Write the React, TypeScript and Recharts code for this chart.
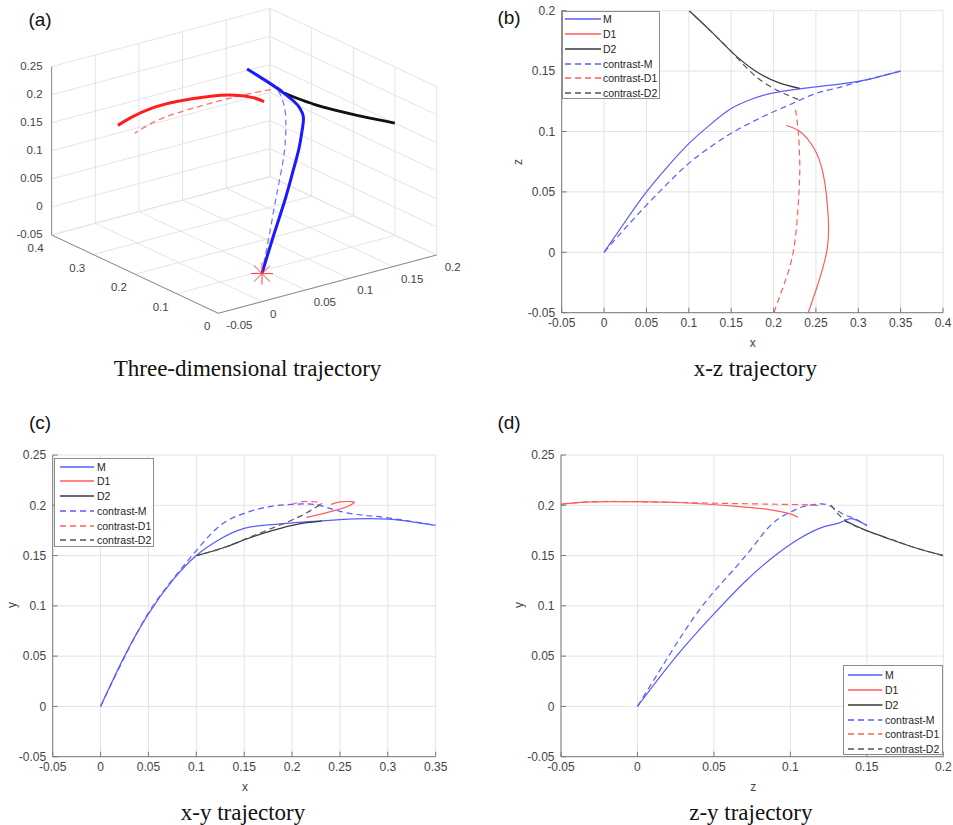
import React from 'react'
import {
  LineChart, ComposedChart, Line, Scatter, XAxis, YAxis,
  CartesianGrid, ReferenceLine,
} from 'recharts'

// every point is [x, y, z]
type P3 = [number, number, number]

const M: P3[] = [
  [0, 0, 0], [0.025, 0.05, 0.0255], [0.05, 0.092, 0.05], [0.075, 0.125, 0.071],
  [0.1, 0.15, 0.09], [0.125, 0.1665, 0.1055], [0.15, 0.177, 0.119], [0.175, 0.1805, 0.127],
  [0.2, 0.1825, 0.132], [0.25, 0.1858, 0.137], [0.3, 0.1862, 0.1415], [0.35, 0.18, 0.15],
]
const D1: P3[] = [
  [0.215, 0.188, 0.105], [0.231, 0.1915, 0.1], [0.247, 0.1955, 0.087], [0.2586, 0.199, 0.065],
  [0.2645, 0.2025, 0.03], [0.2626, 0.2036, 0], [0.2507, 0.2034, -0.03], [0.2409, 0.2009, -0.05],
]
const D2: P3[] = [
  [0.231, 0.1843, 0.1357], [0.2075, 0.1815, 0.14], [0.18, 0.175, 0.1495],
  [0.1524, 0.1665, 0.1647], [0.129, 0.158, 0.181], [0.1005, 0.15, 0.2],
]
const contrastM: P3[] = [
  [0, 0, 0], [0.025, 0.049, 0.02], [0.05, 0.093, 0.039], [0.075, 0.126, 0.057],
  [0.1, 0.155, 0.0736], [0.125, 0.18, 0.087], [0.15, 0.192, 0.0985], [0.175, 0.1985, 0.108],
  [0.2, 0.2009, 0.1164], [0.225, 0.2005, 0.124], [0.25, 0.194, 0.1315], [0.275, 0.19, 0.136],
  [0.3, 0.1875, 0.141], [0.35, 0.18, 0.15],
]
const contrastD1: P3[] = [
  [0.226, 0.2, 0.118], [0.229, 0.2008, 0.101], [0.231, 0.2015, 0.071], [0.229, 0.2025, 0.038],
  [0.2232, 0.2035, 0], [0.2114, 0.2036, -0.0285], [0.2004, 0.2012, -0.05],
]
const contrastD2: P3[] = [
  [0.229, 0.2003, 0.1266], [0.2075, 0.1887, 0.133], [0.18, 0.1775, 0.145],
  [0.1524, 0.167, 0.1645], [0.129, 0.158, 0.181], [0.1005, 0.15, 0.2],
]

const xTicksB = [-0.05, 0, 0.05, 0.1, 0.15, 0.2, 0.25, 0.3, 0.35, 0.4]
const zTicksB = [-0.05, 0, 0.05, 0.1, 0.15, 0.2]
const xTicksC = [-0.05, 0, 0.05, 0.1, 0.15, 0.2, 0.25, 0.3, 0.35]
const yTicks = [-0.05, 0, 0.05, 0.1, 0.15, 0.2, 0.25]
const zTicksD = [-0.05, 0, 0.05, 0.1, 0.15, 0.2]

// 3d box ticks
const xTicks3 = [0, 0.1, 0.2, 0.3, 0.4]
const zTicks3 = [-0.05, 0, 0.05, 0.1, 0.15, 0.2]
const yTicks3 = [-0.05, 0, 0.05, 0.1, 0.15, 0.2, 0.25]

const SANS = '"Liberation Sans", Arial, Helvetica, sans-serif'
const SERIF = '"Liberation Serif", "Times New Roman", serif'
const AXIS = '#7a7a7a'
const TICK = '#444'
const GRID = '#e4e4e4'

const BLUE = '#5b5bff'
const RED = '#ff5c5c'
const DARK = '#3a3a3a'

const lines2d = [
  { name: 'M', pts: M, color: BLUE, dash: undefined },
  { name: 'D1', pts: D1, color: RED, dash: undefined },
  { name: 'D2', pts: D2, color: DARK, dash: undefined },
  { name: 'contrast-M', pts: contrastM, color: BLUE, dash: '6 4' },
  { name: 'contrast-D1', pts: contrastD1, color: RED, dash: '6 4' },
  { name: 'contrast-D2', pts: contrastD2, color: '#555', dash: '6 4' },
]

// view of the 3d box: where one unit of x, z, y goes on the page
const ORIGIN = { u: 218.3, v: 313.3 }
const EX = { u: -416.7, v: -195.8 }
const EZ = { u: 873.3, v: -233.3 }
const EY = { u: 0, v: -561 }

function proj(x: number, y: number, z: number) {
  const dx = x - 0, dz = z + 0.05, dy = y + 0.05
  return {
    u: ORIGIN.u + EX.u * dx + EZ.u * dz + EY.u * dy,
    v: ORIGIN.v + EX.v * dx + EZ.v * dz + EY.v * dy,
  }
}

function boxSegments() {
  const segs: [P3, P3][] = []
  xTicks3.forEach(t => segs.push([[t, -0.05, -0.05], [t, -0.05, 0.2]]))
  zTicks3.forEach(t => segs.push([[0, -0.05, t], [0.4, -0.05, t]]))
  zTicks3.forEach(t => segs.push([[0.4, -0.05, t], [0.4, 0.25, t]]))
  yTicks3.forEach(t => segs.push([[0.4, t, -0.05], [0.4, t, 0.2]]))
  xTicks3.forEach(t => segs.push([[t, -0.05, 0.2], [t, 0.25, 0.2]]))
  yTicks3.forEach(t => segs.push([[0, t, 0.2], [0.4, t, 0.2]]))
  return segs
}

const axisSegs: [P3, P3][] = [
  [[0.4, -0.05, -0.05], [0.4, 0.25, -0.05]],
  [[0, -0.05, -0.05], [0.4, -0.05, -0.05]],
  [[0, -0.05, -0.05], [0, -0.05, 0.2]],
]

function Label({ x, y, children, size = 12, font = SANS, rotate = false, color = TICK }: any) {
  return (
    <div style={{
      position: 'absolute', left: x, top: y, transform: `translate(-50%, -50%)${rotate ? ' rotate(-90deg)' : ''}`,
      fontFamily: font, fontSize: size, color, whiteSpace: 'nowrap', lineHeight: 1,
    }}>{children}</div>
  )
}

function LegendBox({ left, top, width, height, first, lineOff, lineW, textOff }: any) {
  return (
    <div style={{
      position: 'absolute', left, top, width, height, boxSizing: 'border-box',
      border: '1px solid #8c8c8c', background: '#fff', fontFamily: SANS, fontSize: 10.5, color: '#262626',
    }}>
      {lines2d.map((s, i) => (
        <div key={s.name} style={{ position: 'absolute', left: 0, top: first + i * 14.75 - 7, height: 14, width: '100%' }}>
          <svg width={lineW} height={14} style={{ position: 'absolute', left: lineOff, top: 0 }}>
            <line x1={0} y1={7} x2={lineW} y2={7} stroke={s.color} strokeWidth={1.3} strokeDasharray={s.dash} />
          </svg>
          <span style={{ position: 'absolute', left: textOff, top: 1, lineHeight: '12px' }}>{s.name}</span>
        </div>
      ))}
    </div>
  )
}

function Panel2D({ left, top, width, height, margin, yw, hIdx, vIdx, hTicks, vTicks }: any) {
  const hDom = [hTicks[0], hTicks[hTicks.length - 1]]
  const vDom = [vTicks[0], vTicks[vTicks.length - 1]]
  const tickStyle = { fill: TICK, fontSize: 12, fontFamily: SANS }
  return (
    <div style={{ position: 'absolute', left, top }}>
      <LineChart width={width} height={height} margin={margin}>
        <CartesianGrid stroke={GRID} />
        <XAxis type="number" dataKey="h" domain={hDom} ticks={hTicks} allowDataOverflow interval={0}
          height={30} tickSize={-5} tickMargin={11} stroke={AXIS} tick={tickStyle} />
        <YAxis type="number" domain={vDom} ticks={vTicks} allowDataOverflow interval={0}
          width={yw} tickSize={-5} tickMargin={11.5} stroke={AXIS} tick={tickStyle} />
        <XAxis xAxisId="top" orientation="top" type="number" domain={hDom} ticks={hTicks} allowDataOverflow
          height={0} tick={false} tickSize={-5} stroke={AXIS} />
        <YAxis yAxisId="right" orientation="right" type="number" domain={vDom} ticks={vTicks} allowDataOverflow
          width={0} tick={false} tickSize={-5} stroke={AXIS} />
        {lines2d.map(s => (
          <Line key={s.name} data={s.pts.map(p => ({ h: p[hIdx], v: p[vIdx] }))} dataKey="v"
            type="natural" stroke={s.color} strokeWidth={1.2} strokeDasharray={s.dash}
            dot={false} activeDot={false} isAnimationActive={false} />
        ))}
      </LineChart>
    </div>
  )
}

const lines3d = [
  { name: 'contrast-D2', pts: contrastD2, color: '#666', w: 1.2, dash: '6 4' },
  { name: 'contrast-D1', pts: contrastD1, color: '#ff7070', w: 1.3, dash: '6 4' },
  { name: 'contrast-M', pts: contrastM, color: '#7a7aff', w: 1.3, dash: '6 4' },
  { name: 'D1', pts: D1, color: '#ff1e1e', w: 3, dash: undefined },
  { name: 'D2', pts: D2, color: '#111', w: 2.8, dash: undefined },
  { name: 'M', pts: M, color: '#1a1aff', w: 3, dash: undefined },
]

function Panel3D() {
  const txt = (dx: number, dy: number, anchor: string) => (p: any) => (
    <text x={p.cx + dx} y={p.cy + dy} textAnchor={anchor} dominantBaseline="central"
      fill={TICK} fontSize={11.5} fontFamily={SANS}>{p.payload.label}</text>
  )
  const vLabels = yTicks3.map(t => ({ ...proj(0.4, t, -0.05), label: String(t) }))
  const xLabels = xTicks3.map(t => ({ ...proj(t, -0.05, -0.05), label: String(t) }))
  const zLabels = zTicks3.map(t => ({ ...proj(0, -0.05, t), label: String(t) }))
  const start = [proj(0, 0, 0)]
  const star = (p: any) => {
    const r = 11
    return (
      <g stroke="#ff4040" strokeWidth={1}>
        <line x1={p.cx - r} y1={p.cy} x2={p.cx + r} y2={p.cy} />
        <line x1={p.cx} y1={p.cy - r} x2={p.cx} y2={p.cy + r} />
        <line x1={p.cx - r * 0.72} y1={p.cy - r * 0.72} x2={p.cx + r * 0.72} y2={p.cy + r * 0.72} />
        <line x1={p.cx - r * 0.72} y1={p.cy + r * 0.72} x2={p.cx + r * 0.72} y2={p.cy - r * 0.72} />
      </g>
    )
  }
  const seg = (s: [P3, P3], i: number, color: string, w: number) => {
    const a = proj(s[0][0], s[0][1], s[0][2])
    const b = proj(s[1][0], s[1][1], s[1][2])
    return <ReferenceLine key={color + i} segment={[{ x: a.u, y: a.v }, { x: b.u, y: b.v }]}
      stroke={color} strokeWidth={w} ifOverflow="visible" />
  }
  return (
    <div style={{ position: 'absolute', left: 0, top: 0 }}>
      <ComposedChart width={470} height={345} margin={{ top: 0, right: 0, bottom: 0, left: 0 }}>
        <XAxis hide type="number" dataKey="u" domain={[0, 470]} allowDataOverflow />
        <YAxis hide type="number" dataKey="v" domain={[0, 345]} reversed allowDataOverflow />
        {boxSegments().map((s, i) => seg(s, i, GRID, 1))}
        {axisSegs.map((s, i) => seg(s, i, '#8a8a8a', 1))}
        {lines3d.map(s => (
          <Line key={s.name} data={s.pts.map(p => proj(p[0], p[1], p[2]))} dataKey="v"
            type="natural" stroke={s.color} strokeWidth={s.w} strokeDasharray={s.dash}
            dot={false} activeDot={false} isAnimationActive={false} />
        ))}
        <Scatter data={start} shape={star} isAnimationActive={false} />
        <Scatter data={vLabels} shape={txt(-9, -1, 'end')} isAnimationActive={false} />
        <Scatter data={xLabels} shape={txt(-8, 13, 'end')} isAnimationActive={false} />
        <Scatter data={zLabels} shape={txt(8, 12, 'start')} isAnimationActive={false} />
      </ComposedChart>
    </div>
  )
}

export default function App() {
  return (
    <div style={{ position: 'absolute', left: 0, top: 0, width: 953, height: 825, background: '#fff', overflow: 'hidden' }}>
      <Panel3D />
      <Panel2D left={480} top={0} width={473} height={380}
        margin={{ top: 10.7, right: 10, bottom: 37.3, left: 21.7 }} yw={60}
        hIdx={0} vIdx={2} hTicks={xTicksB} vTicks={zTicksB} />
      <Panel2D left={0} top={410} width={470} height={380}
        margin={{ top: 45, right: 34.3, bottom: 3.3, left: 12.7 }} yw={40}
        hIdx={0} vIdx={1} hTicks={xTicksC} vTicks={yTicks} />
      <Panel2D left={480} top={410} width={473} height={380}
        margin={{ top: 45, right: 9.7, bottom: 3.3, left: 21 }} yw={60}
        hIdx={2} vIdx={1} hTicks={zTicksD} vTicks={yTicks} />

      <LegendBox left={561.7} top={10.7} width={98.3} height={88.6} first={7.6} lineOff={2.3} lineW={36} textOff={40.3} />
      <LegendBox left={54.3} top={457.7} width={100} height={89} first={8} lineOff={4.4} lineW={34.6} textOff={41.7} />
      <LegendBox left={843.3} top={665} width={100} height={90} first={9.3} lineOff={4} lineW={34.4} textOff={40.7} />

      <Label x={752.7} y={343.3}>x</Label>
      <Label x={518.3} y={162.3} rotate>z</Label>
      <Label x={245} y={786.7}>x</Label>
      <Label x={11.7} y={605} rotate>y</Label>
      <Label x={753.3} y={786.7}>z</Label>
      <Label x={519} y={605} rotate>y</Label>

      <Label x={40} y={19} size={19} color="#111">(a)</Label>
      <Label x={509} y={17} size={19} color="#111">(b)</Label>
      <Label x={40} y={422} size={19} color="#111">(c)</Label>
      <Label x={509} y={422} size={19} color="#111">(d)</Label>

      <Label x={247.5} y={368} size={23} font={SERIF} color="#111">Three-dimensional trajectory</Label>
      <Label x={755.3} y={368} size={23} font={SERIF} color="#111">x-z trajectory</Label>
      <Label x={243} y={811.7} size={23} font={SERIF} color="#111">x-y trajectory</Label>
      <Label x={750.8} y={811.7} size={23} font={SERIF} color="#111">z-y trajectory</Label>
    </div>
  )
}
